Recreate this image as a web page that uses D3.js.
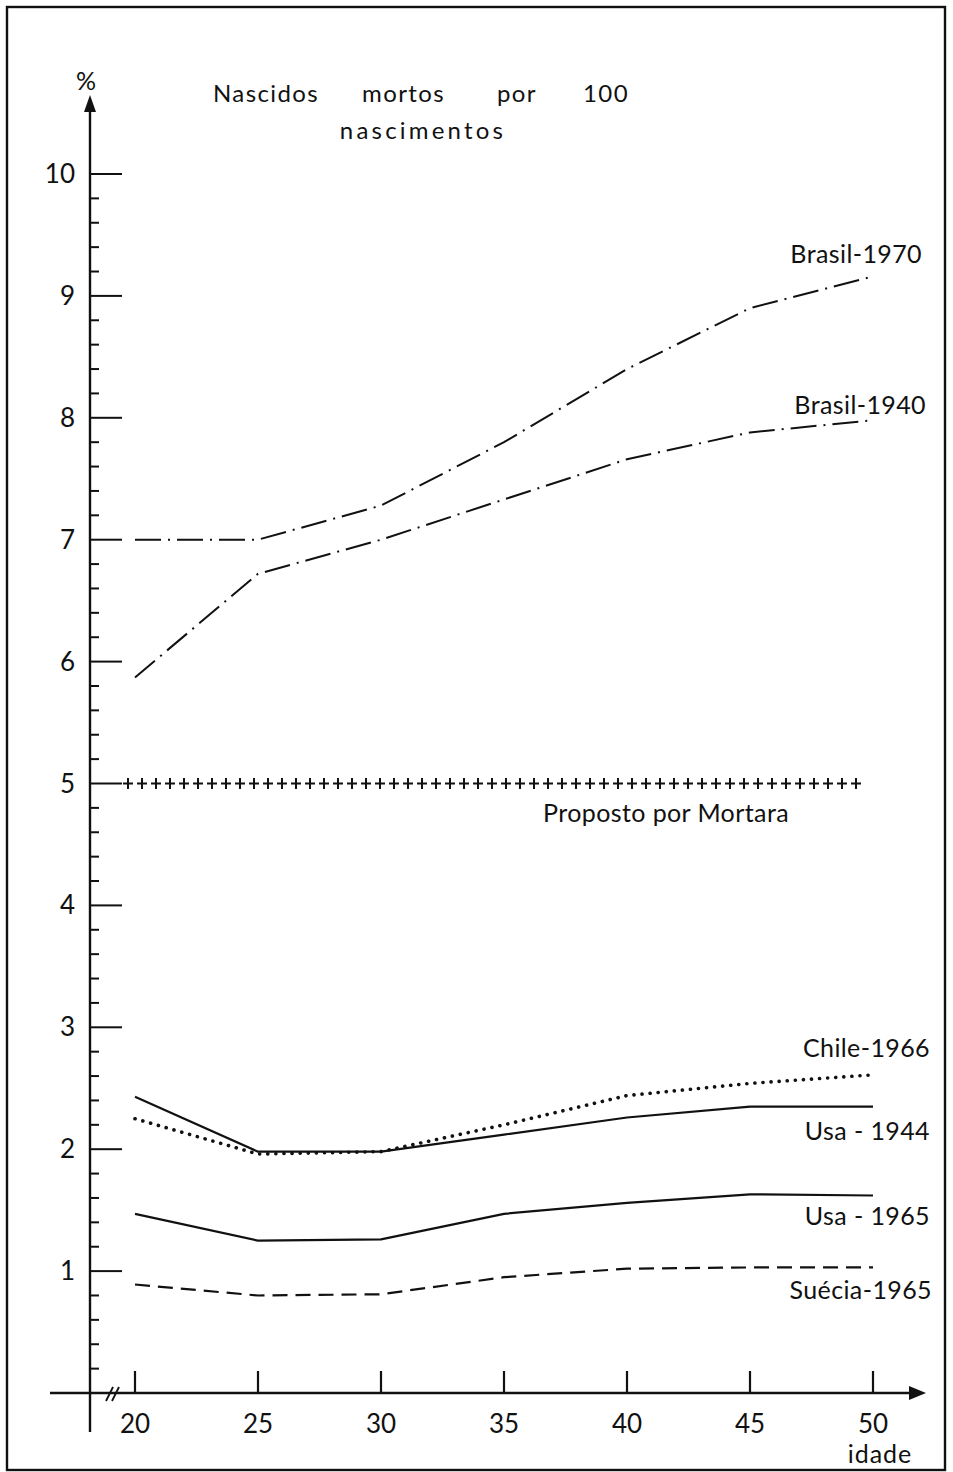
<!DOCTYPE html>
<html><head><meta charset="utf-8">
<script src="https://cdn.jsdelivr.net/npm/d3@7"></script>
<style>body{margin:0;background:#fff}svg{display:block}text{font-family:Lato,"Open Sans",sans-serif;fill:#111}</style>
</head><body><svg id="c" width="953" height="1472"></svg>
<script>
const ages = [20, 25, 30, 35, 40, 45, 50];
const brasil1970 = [7.0, 7.0, 7.28, 7.8, 8.4, 8.9, 9.16];
const brasil1940 = [5.87, 6.72, 7.0, 7.33, 7.66, 7.88, 7.98];
const mortara = [5, 5, 5, 5, 5, 5, 5];
const chile1966 = [2.25, 1.96, 1.98, 2.2, 2.44, 2.54, 2.61];
const usa1944 = [2.43, 1.98, 1.98, 2.12, 2.26, 2.35, 2.35];
const usa1965 = [1.47, 1.25, 1.26, 1.47, 1.56, 1.63, 1.62];
const suecia1965 = [0.89, 0.8, 0.81, 0.95, 1.02, 1.03, 1.03];
const yTicks = [1, 2, 3, 4, 5, 6, 7, 8, 9, 10];
const xTicks = [20, 25, 30, 35, 40, 45, 50];
const titleLine1 = ["Nascidos", "mortos", "por", "100"];
const titleLine2 = "nascimentos";
const seriesLabels = ["Brasil-1970", "Brasil-1940", "Proposto por Mortara", "Chile-1966", "Usa - 1944", "Usa - 1965", "Suécia-1965"];

const svg = d3.select("#c");
const x = d3.scaleLinear().domain([20, 50]).range([135, 873]);
const y = d3.scaleLinear().domain([0, 10]).range([1393, 174]);
const axX = 90;

// frame
svg.append("rect").attr("x", 7).attr("y", 7).attr("width", 938).attr("height", 1463)
  .attr("fill", "none").attr("stroke", "#111").attr("stroke-width", 2.4);

// y axis
svg.append("line").attr("x1", axX).attr("x2", axX).attr("y1", 108).attr("y2", 1432)
  .attr("stroke", "#111").attr("stroke-width", 2.4);
svg.append("path").attr("d", `M${axX},95 L${axX-6},112 L${axX+6},112 Z`).attr("fill", "#111");
svg.append("text").attr("x", axX - 4).attr("y", 90).attr("text-anchor", "middle")
  .attr("font-size", 25).text("%");

// y ticks
const minor = d3.range(1, 50).map(i => i / 5).filter(v => Math.abs(v - Math.round(v)) > 1e-6);
svg.selectAll(".mn").data(minor).join("line")
  .attr("x1", axX).attr("x2", axX + 9).attr("y1", d => y(d)).attr("y2", d => y(d))
  .attr("stroke", "#111").attr("stroke-width", 2);
svg.selectAll(".mj").data(yTicks).join("line")
  .attr("x1", axX).attr("x2", axX + 32).attr("y1", d => y(d)).attr("y2", d => y(d))
  .attr("stroke", "#111").attr("stroke-width", 2);
svg.selectAll(".yl").data(yTicks).join("text")
  .attr("x", 75).attr("y", d => y(d) + 9).attr("text-anchor", "end")
  .attr("font-size", 26).text(d => d);

// x axis
svg.append("line").attr("x1", 50).attr("x2", 912).attr("y1", y(0)).attr("y2", y(0))
  .attr("stroke", "#111").attr("stroke-width", 2.4);
svg.append("path").attr("d", `M926,${y(0)} L909,${y(0)-7} L909,${y(0)+7} Z`).attr("fill", "#111");
svg.selectAll(".xt").data(xTicks).join("line")
  .attr("x1", d => x(d)).attr("x2", d => x(d)).attr("y1", y(0)).attr("y2", y(0) - 22)
  .attr("stroke", "#111").attr("stroke-width", 2.2);
svg.selectAll(".xl").data(xTicks).join("text")
  .attr("x", d => x(d)).attr("y", 1433).attr("text-anchor", "middle")
  .attr("font-size", 26).text(d => d);
svg.append("text").attr("x", 880).attr("y", 1463).attr("text-anchor", "middle")
  .attr("font-size", 25).attr("letter-spacing", 1).text("idade");
// axis break
[0, 6].forEach(o => svg.append("line").attr("x1", 106 + o).attr("y1", y(0) + 8)
  .attr("x2", 113 + o).attr("y2", y(0) - 6).attr("stroke", "#111").attr("stroke-width", 1.8));

// title
const tx = [213, 362, 497, 583];
svg.selectAll(".t1").data(titleLine1).join("text")
  .attr("x", (d, i) => tx[i]).attr("y", 102).attr("font-size", 24).attr("letter-spacing", 1.4).text(d => d);
svg.append("text").attr("x", 423).attr("y", 139).attr("text-anchor", "middle")
  .attr("font-size", 24).attr("letter-spacing", 3.2).text(titleLine2);

// lines
const line = d3.line().x((d, i) => x(ages[i])).y(d => y(d));
function draw(vals, dash, w, cap) {
  svg.append("path").attr("d", line(vals)).attr("fill", "none").attr("stroke", "#111")
    .attr("stroke-width", w).attr("stroke-dasharray", dash).attr("stroke-linecap", cap || "butt")
    .attr("stroke-linejoin", "round");
}
draw(brasil1970, "26,7,2,7", 2);
draw(brasil1940, "26,7,2,7", 2);
draw(chile1966, "0.1,8", 3.6, "round");
draw(usa1944, null, 2.2);
draw(usa1965, null, 2.2);
draw(suecia1965, "15,8", 2.2);

// Mortara crosses: horizontal bars + vertical bars via dash patterns
svg.append("path").attr("d", line(mortara)).attr("fill", "none").attr("stroke", "#111")
  .attr("stroke-width", 2).attr("stroke-dasharray", "10,4").attr("transform", "translate(-12,0)");
svg.append("path").attr("d", line(mortara)).attr("fill", "none").attr("stroke", "#111")
  .attr("stroke-width", 11).attr("stroke-dasharray", "2,12").attr("stroke-dashoffset", -4)
  .attr("transform", "translate(-12,0)");

// labels
const lab = [
  {t: seriesLabels[0], x: 922, y: 263, a: "end"},
  {t: seriesLabels[1], x: 926, y: 414, a: "end"},
  {t: seriesLabels[2], x: 543, y: 822, a: "start"},
  {t: seriesLabels[3], x: 930, y: 1057, a: "end"},
  {t: seriesLabels[4], x: 930, y: 1140, a: "end"},
  {t: seriesLabels[5], x: 930, y: 1225, a: "end"},
  {t: seriesLabels[6], x: 932, y: 1299, a: "end"}
];
svg.selectAll(".lb").data(lab).join("text")
  .attr("x", d => d.x).attr("y", d => d.y).attr("text-anchor", d => d.a)
  .attr("font-size", 25).attr("letter-spacing", 0.4).text(d => d.t);
</script></body></html>
